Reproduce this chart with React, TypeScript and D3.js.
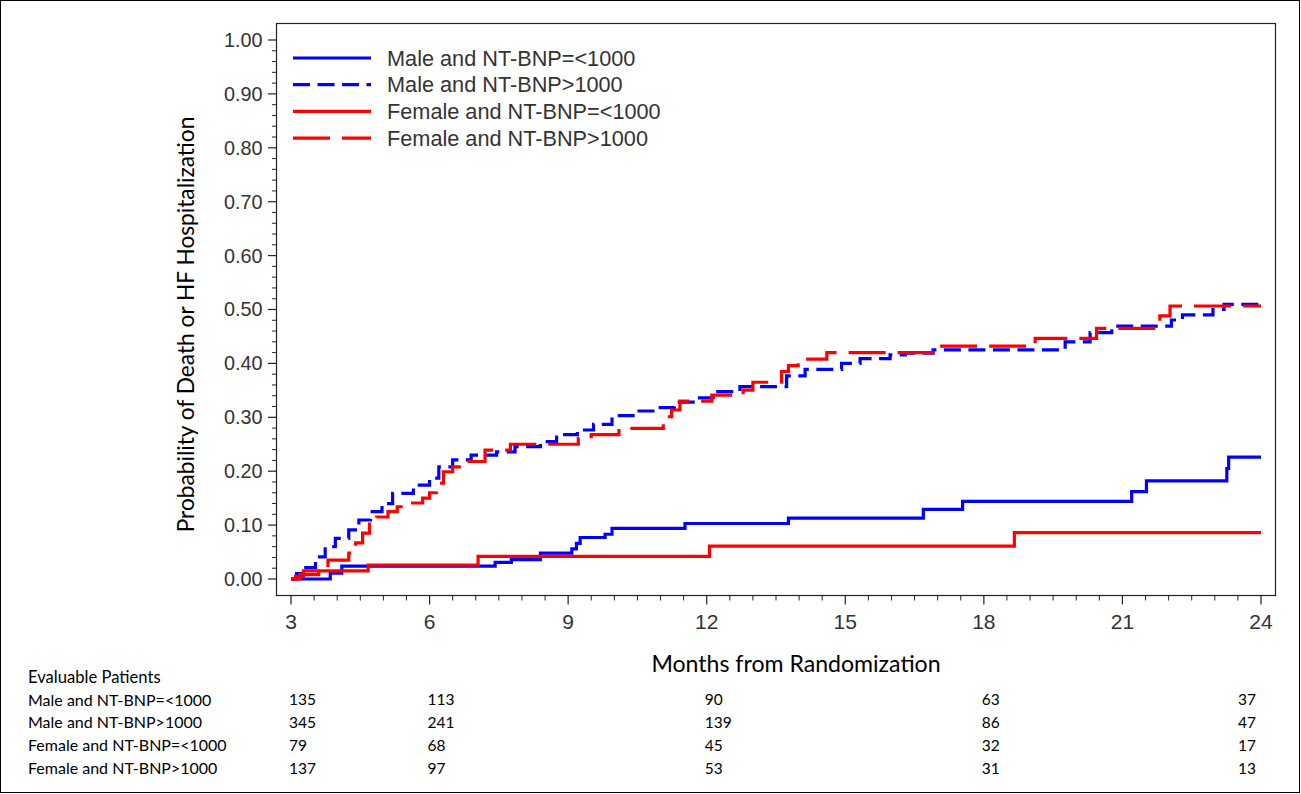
import React from 'react';
import * as d3 from 'd3';

type Pt = [number, number];

// Kaplan-Meier style cumulative probability steps: [month, probability]
const maleLow: Pt[] = [
  [3, 0], [3.85, 0.011], [4.1, 0.024], [7.42, 0.031], [7.77, 0.036], [8.4, 0.048],
  [9.08, 0.056], [9.18, 0.066], [9.26, 0.077], [9.8, 0.083], [9.95, 0.094], [11.53, 0.103],
  [13.77, 0.113], [16.69, 0.129], [17.54, 0.144], [21.2, 0.162], [21.52, 0.182],
  [23.26, 0.205], [23.3, 0.226],
];
const maleHigh: Pt[] = [
  [3, 0], [3.12, 0.01], [3.24, 0.021], [3.53, 0.041], [3.74, 0.06], [3.96, 0.0755],
  [4.25, 0.091], [4.47, 0.1095], [4.72, 0.125], [4.97, 0.14], [5.2, 0.159], [5.65, 0.174],
  [6.0, 0.187], [6.2, 0.208], [6.5, 0.221], [6.9, 0.23], [7.45, 0.236], [7.85, 0.2455],
  [8.4, 0.2548], [8.75, 0.268], [9.2, 0.2764], [9.55, 0.287], [9.95, 0.303], [10.45, 0.3117],
  [10.9, 0.318], [11.3, 0.328], [11.8, 0.336], [12.14, 0.3475], [12.72, 0.357], [13.73, 0.377],
  [14.13, 0.389], [14.92, 0.4], [15.32, 0.409], [15.97, 0.416], [16.3, 0.419], [16.9, 0.425],
  [19.76, 0.44], [20.3, 0.457], [20.77, 0.469], [22.06, 0.4805], [22.3, 0.49], [22.96, 0.5],
  [23.2, 0.5096],
];
const femaleLow: Pt[] = [
  [3, 0], [3.1, 0.005], [3.27, 0.015], [4.67, 0.026], [7.05, 0.042], [12.06, 0.061],
  [18.66, 0.086],
];
const femaleHigh: Pt[] = [
  [3, 0], [3.2, 0.008], [3.6, 0.02], [3.8, 0.035], [4.25, 0.048], [4.4, 0.067], [4.55, 0.085],
  [4.7, 0.11], [4.85, 0.115], [5.1, 0.125], [5.3, 0.134], [5.5, 0.141], [5.85, 0.15],
  [6.0, 0.16], [6.15, 0.178], [6.3, 0.199], [6.5, 0.208], [6.75, 0.218], [7.2, 0.239],
  [7.75, 0.25], [9.22, 0.261], [9.5, 0.268], [10.1, 0.2795], [11.06, 0.301], [11.24, 0.3135],
  [11.42, 0.33], [12.11, 0.341], [12.79, 0.3506], [13.0, 0.365], [13.62, 0.385], [13.77, 0.396],
  [13.98, 0.408], [14.6, 0.42], [16.9, 0.432], [19.11, 0.4465], [20.44, 0.465], [21.81, 0.488],
  [22.03, 0.5065],
];

const seriesLabels = [
  'Male and NT-BNP=<1000',
  'Male and NT-BNP>1000',
  'Female and NT-BNP=<1000',
  'Female and NT-BNP>1000',
];
const xTicks = [3, 6, 9, 12, 15, 18, 21, 24];
const yTicks = [0, 0.1, 0.2, 0.3, 0.4, 0.5, 0.6, 0.7, 0.8, 0.9, 1.0];

const riskMonths = [3, 6, 12, 18, 24];
const riskMaleLow = [135, 113, 90, 63, 37];
const riskMaleHigh = [345, 241, 139, 86, 47];
const riskFemaleLow = [79, 68, 45, 32, 17];
const riskFemaleHigh = [137, 97, 53, 31, 13];

const BLUE = '#0000ff';
const RED = '#ff0000';

export default function App() {
  const W = 1301, H = 794;
  const x = d3.scaleLinear().domain([3, 24]).range([291, 1261]);
  const y = d3.scaleLinear().domain([0, 1]).range([579, 40]);
  const frame = { l: 276.5, r: 1275.5, t: 23.5, b: 595.5 };

  const line = d3.line<Pt>().x(d => x(d[0])).y(d => y(d[1])).curve(d3.curveStepAfter);
  const ext = (s: Pt[]): Pt[] => [...s, [24, s[s.length - 1][1]]];

  const series = [
    { data: maleLow, color: BLUE, dash: undefined as string | undefined },
    { data: maleHigh, color: BLUE, dash: '17 7.5' },
    { data: femaleLow, color: RED, dash: undefined },
    { data: femaleHigh, color: RED, dash: '37 12' },
  ];

  const minorX = d3.range(3, 24.001, 0.5).filter(v => Math.abs(v % 3) > 0.01);
  const minorY = d3.range(0, 1.0001, 0.02).filter(v => Math.abs(Math.round(v * 10) - v * 10) > 0.01);

  const risk = [riskMaleLow, riskMaleHigh, riskFemaleLow, riskFemaleHigh];
  const tableFont = 'Lato, "Open Sans", sans-serif';
  const axisFont = '"Liberation Sans", Arial, sans-serif';

  return (
    <div style={{ position: 'absolute', left: 0, top: 0 }}>
      <svg width={W} height={H} style={{ display: 'block', background: '#fff' }}>
        <rect x={0.5} y={0.5} width={W - 2} height={H - 2} fill="#fff" stroke="#000" strokeWidth={1} />
        {/* frame */}
        <rect x={frame.l} y={frame.t} width={frame.r - frame.l} height={frame.b - frame.t} fill="none" stroke="#222" strokeWidth={1.2} />
        {/* y ticks */}
        {yTicks.map(t => (
          <g key={'y' + t}>
            <line x1={frame.l - 8.5} x2={frame.l} y1={y(t)} y2={y(t)} stroke="#222" strokeWidth={1.2} />
            <text x={frame.l - 14} y={y(t)} dy="0.35em" textAnchor="end" fontFamily={axisFont} fontSize={19.8} fill="#333">{t.toFixed(2)}</text>
          </g>
        ))}
        {minorY.map(t => (
          <line key={'my' + t} x1={frame.l - 4.5} x2={frame.l} y1={y(t)} y2={y(t)} stroke="#222" strokeWidth={1} />
        ))}
        {/* x ticks */}
        {xTicks.map(t => (
          <g key={'x' + t}>
            <line x1={x(t)} x2={x(t)} y1={frame.b} y2={frame.b + 9} stroke="#222" strokeWidth={1.2} />
            <text x={x(t)} y={frame.b + 33} textAnchor="middle" fontFamily={axisFont} fontSize={21} fill="#333">{t}</text>
          </g>
        ))}
        {minorX.map(t => (
          <line key={'mx' + t} x1={x(t)} x2={x(t)} y1={frame.b} y2={frame.b + 5} stroke="#222" strokeWidth={1} />
        ))}
        {/* axis labels */}
        <text x={796} y={672} textAnchor="middle" fontFamily={tableFont} fontSize={23.1} fill="#000">Months from Randomization</text>
        <text transform={`translate(194,324.5) rotate(-90)`} textAnchor="middle" fontFamily={tableFont} fontSize={22.7} fill="#000">Probability of Death or HF Hospitalization</text>
        {/* curves */}
        {series.map((s, i) => (
          <path key={'s' + i} d={line(ext(s.data)) || ''} fill="none" stroke={s.color} strokeWidth={3.2} strokeDasharray={s.dash} />
        ))}
        {/* legend */}
        {series.map((s, i) => {
          const ly = 58 + i * 26.7;
          return (
            <g key={'lg' + i}>
              <line x1={293} x2={371} y1={ly} y2={ly} stroke={s.color} strokeWidth={3.2} strokeDasharray={s.dash} />
              <text x={387} y={ly} dy="0.35em" fontFamily={axisFont} fontSize={21.7} fill="#333">{seriesLabels[i]}</text>
            </g>
          );
        })}
        {/* risk table */}
        <text x={28} y={677} dy="0.35em" fontFamily={tableFont} fontSize={16.6} fill="#000">Evaluable Patients</text>
        {seriesLabels.map((lab, i) => {
          const ry = 700 + i * 22.7;
          return (
            <g key={'rt' + i}>
              <text x={28} y={ry} dy="0.35em" fontFamily={tableFont} fontSize={16} fill="#000">{lab}</text>
              {riskMonths.map((m, j) => {
                const last = j === riskMonths.length - 1;
                return (
                  <text key={'c' + j} x={last ? x(m) - 5 : x(m) - 2} y={ry} dy="0.35em" textAnchor={last ? 'end' : 'start'} fontFamily={tableFont} fontSize={15.5} fill="#000">{risk[i][j]}</text>
                );
              })}
            </g>
          );
        })}
      </svg>
    </div>
  );
}
